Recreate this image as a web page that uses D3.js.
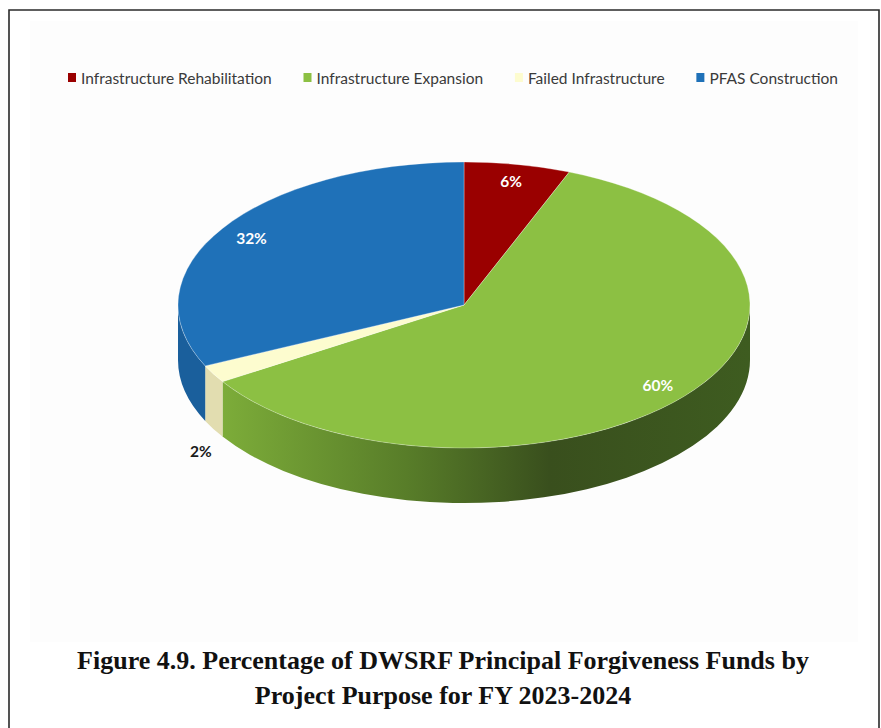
<!DOCTYPE html>
<html>
<head>
<meta charset="utf-8">
<script src="https://cdn.jsdelivr.net/npm/d3@7"></script>
<style>
  body { margin: 0; background: #fff; }
</style>
</head>
<body>
<script>
// chart data
var categories = ["Infrastructure Rehabilitation", "Infrastructure Expansion", "Failed Infrastructure", "PFAS Construction"];
var values = [6, 60, 2, 32];
var valueLabels = ["6%", "60%", "2%", "32%"];
var topColors = ["#9a0000", "#8cc043", "#fdfccf", "#1f71b8"];
var sideColors = ["#6e0000", "url(#greenSide)", "#e2ddb0", "#1a5f9c"];
var captionLines = ["Figure 4.9. Percentage of DWSRF Principal Forgiveness Funds by",
                    "Project Purpose for FY 2023-2024"];

var W = 881, H = 728;
var cx = 464, cy = 305, rx = 286, ry = 143, depth = 55;

var svg = d3.select("body").append("svg")
    .attr("width", W)
    .attr("height", H);

// gradient for the green wall
var defs = svg.append("defs");
var grad = defs.append("linearGradient")
    .attr("id", "greenSide")
    .attr("gradientUnits", "userSpaceOnUse")
    .attr("x1", cx - rx).attr("y1", 0)
    .attr("x2", cx + rx).attr("y2", 0);
[[0.0, "#86b83f"], [0.1, "#7aa938"], [0.4, "#587d29"], [0.65, "#394f1d"], [1.0, "#3e5c20"]].forEach(function(s) {
  grad.append("stop").attr("offset", s[0]).attr("stop-color", s[1]);
});

// frame + panel
svg.append("rect")
    .attr("x", 30).attr("y", 21)
    .attr("width", 828).attr("height", 621)
    .attr("fill", "#fdfdfd");
svg.append("path")
    .attr("d", "M9," + H + "V10H879V" + H)
    .attr("fill", "none")
    .attr("stroke", "#2a2a2a")
    .attr("stroke-width", 1.6);

var color = d3.scaleOrdinal().domain(categories).range(topColors);
var sideColor = d3.scaleOrdinal().domain(categories).range(sideColors);

var pie = d3.pie().sort(null).value(function(d) { return d.value; });
var data = categories.map(function(c, i) { return {name: c, value: values[i], label: valueLabels[i]}; });
var arcs = pie(data);

function pt(a, k, dy) {
  k = k || 1; dy = dy || 0;
  return [cx + k * rx * Math.sin(a), cy - k * ry * Math.cos(a) + dy];
}

// side walls (front half only)
var g = svg.append("g");
arcs.forEach(function(d) {
  var s = Math.max(d.startAngle, Math.PI / 2);
  var e = Math.min(d.endAngle, Math.PI * 1.5);
  if (e <= s) return;
  var p0 = pt(s), p1 = pt(e), q1 = pt(e, 1, depth), q0 = pt(s, 1, depth);
  var path = "M" + p0 + "A" + rx + "," + ry + " 0 0 1 " + p1 +
             "L" + q1 + "A" + rx + "," + ry + " 0 0 0 " + q0 + "Z";
  g.append("path")
      .attr("d", path)
      .attr("fill", sideColor(d.data.name));
});

// top faces
arcs.forEach(function(d) {
  var p0 = pt(d.startAngle), p1 = pt(d.endAngle);
  var large = (d.endAngle - d.startAngle) > Math.PI ? 1 : 0;
  var path = "M" + cx + "," + cy + "L" + p0 +
             "A" + rx + "," + ry + " 0 " + large + " 1 " + p1 + "Z";
  g.append("path")
      .attr("d", path)
      .attr("fill", color(d.data.name))
      .attr("stroke", "#ffffff")
      .attr("stroke-opacity", 0.5)
      .attr("stroke-width", 0.6);
});

// value labels
arcs.forEach(function(d) {
  var mid = (d.startAngle + d.endAngle) / 2;
  var small = d.value < 4;
  var p = small ? pt(mid, 1.05, depth + 19) : pt(mid, 0.88);
  g.append("text")
      .attr("x", p[0]).attr("y", p[1])
      .attr("text-anchor", "middle")
      .attr("dominant-baseline", "central")
      .attr("font-family", "Lato, 'Open Sans', sans-serif")
      .attr("font-weight", "bold")
      .attr("font-size", 15.5)
      .attr("fill", small ? "#1a1a1a" : "#ffffff")
      .text(d.data.label);
});

// legend, spread between x=68 and x=838
var legend = svg.append("g");
var items = legend.selectAll("g").data(categories).enter().append("g");
items.append("rect")
    .attr("width", 8).attr("height", 9)
    .attr("y", -5)
    .attr("fill", function(d) { return color(d); });
items.append("text")
    .attr("x", 13)
    .attr("dominant-baseline", "central")
    .attr("font-family", "Lato, 'Open Sans', sans-serif")
    .attr("font-size", 15.5)
    .attr("fill", "#3a3a3a")
    .text(function(d) { return d; });
var widths = [];
items.each(function() { widths.push(this.getBBox().width); });
var left = 68, right = 838;
var gap = (right - left - d3.sum(widths)) / (widths.length - 1);
var lx = left;
items.each(function(d, i) {
  d3.select(this).attr("transform", "translate(" + lx + ",78)");
  lx += widths[i] + gap;
});

// caption
svg.append("g").selectAll("text").data(captionLines).enter().append("text")
    .attr("x", 443)
    .attr("y", function(d, i) { return 669 + i * 35; })
    .attr("text-anchor", "middle")
    .attr("font-family", "'Liberation Serif', 'DejaVu Serif', serif")
    .attr("font-weight", "bold")
    .attr("font-size", 26)
    .attr("fill", "#111")
    .text(function(d) { return d; });
</script>
</body>
</html>
